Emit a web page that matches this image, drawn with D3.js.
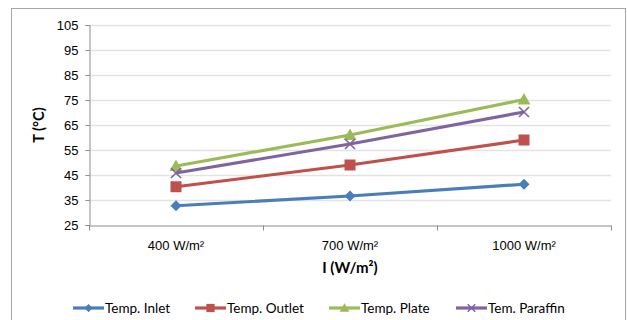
<!DOCTYPE html>
<html>
<head>
<meta charset="utf-8">
<script src="https://cdn.jsdelivr.net/npm/d3@7"></script>
<style>
  html, body { margin: 0; padding: 0; background: #fff; }
  svg { display: block; font-family: Lato, "Open Sans", sans-serif; }
</style>
</head>
<body>
<svg id="chart" width="627" height="320"></svg>
<script>
// Irradiance levels (categories)
const categories = ["400 W/m²", "700 W/m²", "1000 W/m²"];

// Temperatures in °C for each irradiance level
const inlet    = [32.7, 36.6, 41.3];
const outlet   = [40.3, 49.0, 59.0];
const plate    = [48.6, 61.0, 75.2];
const paraffin = [45.8, 57.4, 70.2];

const seriesNames = ["Temp. Inlet", "Temp. Outlet", "Temp. Plate", "Tem. Paraffin"];
const seriesColors = ["#4a7ebb", "#c0504d", "#9bbb59", "#8064a2"];
const seriesMarkers = ["diamond", "square", "triangle", "cross"];
const yTicks = [25, 35, 45, 55, 65, 75, 85, 95, 105];

const series = [inlet, outlet, plate, paraffin].map((values, i) => ({
  name: seriesNames[i], color: seriesColors[i], marker: seriesMarkers[i], values
}));

const svg = d3.select("#chart");

// Chart frame
svg.append("rect")
  .attr("x", 11.5).attr("y", 8.5).attr("width", 614).attr("height", 330)
  .attr("fill", "none").attr("stroke", "#a6a6a6").attr("stroke-width", 1);

const plot = { left: 89, right: 611, top: 25, bottom: 225 };

const x = d3.scaleBand().domain(categories).range([plot.left, plot.right]);
const y = d3.scaleLinear().domain([25, 105]).range([plot.bottom, plot.top]);

// Horizontal gridlines
svg.append("g").selectAll("line")
  .data(yTicks.filter(t => t > 25))
  .join("line")
  .attr("x1", plot.left).attr("x2", plot.right)
  .attr("y1", d => Math.round(y(d)) + 0.5).attr("y2", d => Math.round(y(d)) + 0.5)
  .attr("stroke", "#e3e3e3").attr("stroke-width", 1.3);

// Y axis
const yAxis = svg.append("g")
  .attr("transform", `translate(${plot.left + 0.5},0)`)
  .call(d3.axisLeft(y).tickValues(yTicks).tickSize(4).tickPadding(7));
yAxis.select(".domain").attr("stroke", "#8c8c8c");
yAxis.selectAll(".tick line").attr("stroke", "#8c8c8c");
yAxis.selectAll(".tick text")
  .attr("font-size", 13).attr("fill", "#000");

// X axis with tick marks at category boundaries
const xAxis = svg.append("g")
  .attr("transform", `translate(0,${plot.bottom + 0.5})`)
  .call(d3.axisBottom(x).tickSize(0).tickPadding(15));
xAxis.select(".domain").attr("stroke", "#8c8c8c");
xAxis.selectAll(".tick text")
  .attr("font-size", 13).attr("fill", "#000");
const boundaries = [plot.left, ...categories.map(c => x(c) + x.bandwidth())];
xAxis.selectAll(".bnd").data(boundaries).join("line")
  .attr("class", "bnd")
  .attr("x1", d => Math.round(d) + 0.5).attr("x2", d => Math.round(d) + 0.5)
  .attr("y1", 0).attr("y2", 5)
  .attr("stroke", "#8c8c8c");

// Axis titles
svg.append("text")
  .attr("transform", "translate(44,125) rotate(-90)")
  .attr("text-anchor", "middle")
  .attr("font-size", 14.5).attr("font-weight", "bold").attr("fill", "#000")
  .text("T (°C)");
svg.append("text")
  .attr("x", 350).attr("y", 273)
  .attr("text-anchor", "middle")
  .attr("font-size", 15).attr("font-weight", "bold").attr("fill", "#000")
  .text("I (W/m²)");

// Marker drawing helper
function drawMarker(g, type, color, cx, cy, scale = 1) {
  if (type === "diamond") {
    const r = 5.5 * scale;
    g.append("path")
      .attr("d", `M${cx},${cy - r}L${cx + r},${cy}L${cx},${cy + r}L${cx - r},${cy}Z`)
      .attr("fill", color);
  } else if (type === "square") {
    const s = 11 * scale;
    g.append("rect")
      .attr("x", cx - s / 2).attr("y", cy - s / 2).attr("width", s).attr("height", s)
      .attr("fill", color);
  } else if (type === "triangle") {
    const r = 6.5 * scale;
    g.append("path")
      .attr("d", `M${cx},${cy - r}L${cx + r},${cy + r * 0.75}L${cx - r},${cy + r * 0.75}Z`)
      .attr("fill", color);
  } else if (type === "cross") {
    const r = 5 * scale;
    g.append("path")
      .attr("d", `M${cx - r},${cy - r}L${cx + r},${cy + r}M${cx - r},${cy + r}L${cx + r},${cy - r}`)
      .attr("stroke", color).attr("stroke-width", 1.6).attr("fill", "none");
  }
}

// Series lines and markers
const line = d3.line()
  .x((d, i) => x(categories[i]) + x.bandwidth() / 2)
  .y(d => y(d));

series.forEach(s => {
  const g = svg.append("g");
  g.append("path")
    .datum(s.values)
    .attr("d", line)
    .attr("fill", "none")
    .attr("stroke", s.color)
    .attr("stroke-width", 3.2)
    .attr("stroke-linejoin", "round");
  s.values.forEach((v, i) => {
    drawMarker(g, s.marker, s.color, x(categories[i]) + x.bandwidth() / 2, y(v));
  });
});

// Legend
const legendItems = [
  { x: 73, w: 31 },
  { x: 195, w: 31 },
  { x: 329, w: 31 },
  { x: 456, w: 31 }
];
const legendY = 308;
series.forEach((s, i) => {
  const g = svg.append("g");
  const lx = legendItems[i].x, lw = legendItems[i].w;
  g.append("line")
    .attr("x1", lx).attr("x2", lx + lw)
    .attr("y1", legendY).attr("y2", legendY)
    .attr("stroke", s.color).attr("stroke-width", 3.2);
  drawMarker(g, s.marker, s.color, lx + lw / 2, legendY, 0.75);
  g.append("text")
    .attr("x", lx + lw + 1).attr("y", legendY + 5)
    .attr("font-size", 13.5).attr("fill", "#000")
    .text(s.name);
});
</script>
</body>
</html>
